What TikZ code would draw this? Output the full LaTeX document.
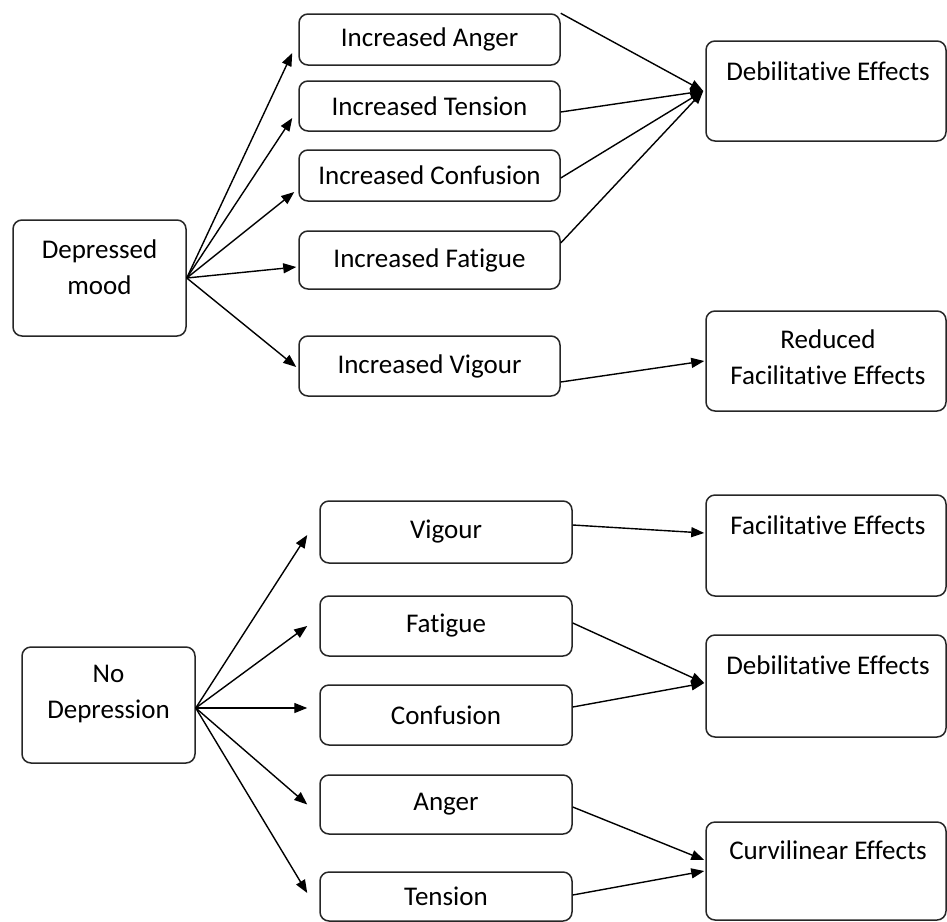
\documentclass[tikz,border=0pt]{standalone}
\usepackage{fontspec}
\setmainfont[Ligatures={NoCommon,NoRare,NoContextual}]{Carlito}
\usetikzlibrary{arrows.meta}
\begin{document}
\begin{tikzpicture}[x=1pt,y=-1pt,
 box/.style={draw=black!85, line width=1.5pt, rounded corners=9pt, inner sep=0pt},
 lbl/.style={font=\fontsize{27}{36}\selectfont, align=center, inner sep=0pt},
 arr/.style={line width=1.4pt, -{Triangle[length=13pt,width=10pt]}}]
\useasboundingbox (0,0) rectangle (947,921);
\clip (0,0) rectangle (947,921);
% ---------- top part ----------
\node[box, minimum width=173pt, minimum height=116pt] (dep) at (99.5,278) {};
\node[lbl] (dept) at (99.5,267) {Depressed\\mood};
\node[box, lbl, minimum width=261pt, minimum height=51pt] (ang) at (429.5,39.5) {Increased Anger};
\node[box, lbl, minimum width=261pt, minimum height=50pt] (ten) at (429.5,106) {Increased Tension};
\node[box, lbl, minimum width=261pt, minimum height=51pt] (con) at (429.5,175.5) {Increased Confusion};
\node[box, lbl, minimum width=261pt, minimum height=58pt] (fat) at (429.5,260) {Increased Fatigue};
\node[box, lbl, minimum width=261pt, minimum height=60pt] (vig) at (429.5,366) {Increased Vigour};
\node[box, minimum width=240pt, minimum height=100pt] (deba) at (826,91) {};
\node[lbl] (debat) at (828,71) {Debilitative Effects};
\node[box, minimum width=240pt, minimum height=100pt] (red) at (826,361) {};
\node[lbl] (redt) at (828,357) {Reduced\\Facilitative Effects};
\draw[arr] (dep.east) -- ([xshift=-6pt,yshift=-13.5pt]ang.west);
\draw[arr] (dep.east) -- ([xshift=-6pt,yshift=-12pt]ten.west);
\draw[arr] (dep.east) -- ([xshift=-4pt,yshift=-16.5pt]con.west);
\draw[arr] (dep.east) -- ([xshift=-2pt,yshift=-7pt]fat.west);
\draw[arr] (dep.east) -- ([xshift=-2pt,yshift=-1pt]vig.west);
\draw[arr] (ang.north east) -- ([xshift=-2pt]deba.west);
\draw[arr] ([yshift=-6pt]ten.east) -- ([xshift=-2pt]deba.west);
\draw[arr] ([yshift=-2.5pt]con.east) -- ([xshift=-2pt]deba.west);
\draw[arr] ([yshift=17pt]fat.east) -- ([xshift=-2pt]deba.west);
\draw[arr] ([yshift=-16pt]vig.east) -- ([xshift=-1pt]red.west);
% ---------- bottom part ----------
\node[box, minimum width=173pt, minimum height=116pt] (nod) at (108.5,705) {};
\node[lbl] (nodt) at (108.5,694.5) {No\\Depression};
\node[box, lbl, minimum width=252pt, minimum height=62pt] (vigb) at (446,532) {Vigour};
\node[box, lbl, minimum width=252pt, minimum height=60pt] (fatb) at (446,626) {Fatigue};
\node[box, lbl, minimum width=252pt, minimum height=60pt] (conb) at (446,715) {Confusion};
\node[box, lbl, minimum width=252pt, minimum height=59pt] (angb) at (446,804.5) {Anger};
\node[box, lbl, minimum width=252pt, minimum height=49pt] (tenb) at (446,896.5) {Tension};
\node[box, minimum width=240pt, minimum height=101pt] (fac) at (826,545.5) {};
\node[lbl] (fact) at (828,525) {Facilitative Effects};
\node[box, minimum width=240pt, minimum height=102pt] (debb) at (826,686) {};
\node[lbl] (debbt) at (828,665) {Debilitative Effects};
\node[box, minimum width=240pt, minimum height=98pt] (cur) at (826,871) {};
\node[lbl] (curt) at (828,850) {Curvilinear Effects};
\coordinate (ndo) at ([yshift=-3pt]nod.east);
\draw[arr] (ndo) -- ([xshift=-12pt,yshift=-3pt]vigb.west);
\draw[arr] (ndo) -- ([xshift=-12pt]fatb.west);
\draw[arr] (ndo) -- ([xshift=-12pt,yshift=7pt]conb.west);
\draw[arr] (ndo) -- ([xshift=-12pt]angb.west);
\draw[arr] (ndo) -- ([xshift=-12pt,yshift=3.5pt]tenb.west);
\draw[arr] ([yshift=7pt]vigb.east) -- ([xshift=-1pt,yshift=12.5pt]fac.west);
\draw[arr] ([yshift=3pt]fatb.east) -- ([xshift=-1pt,yshift=3pt]debb.west);
\draw[arr] ([yshift=8pt]conb.east) -- ([xshift=-1pt,yshift=3pt]debb.west);
\draw[arr] ([yshift=-2.5pt]angb.east) -- ([xshift=-1pt,yshift=11pt]cur.west);
\draw[arr] ([yshift=1.5pt]tenb.east) -- ([xshift=-1pt]cur.west);
\end{tikzpicture}
\end{document}
